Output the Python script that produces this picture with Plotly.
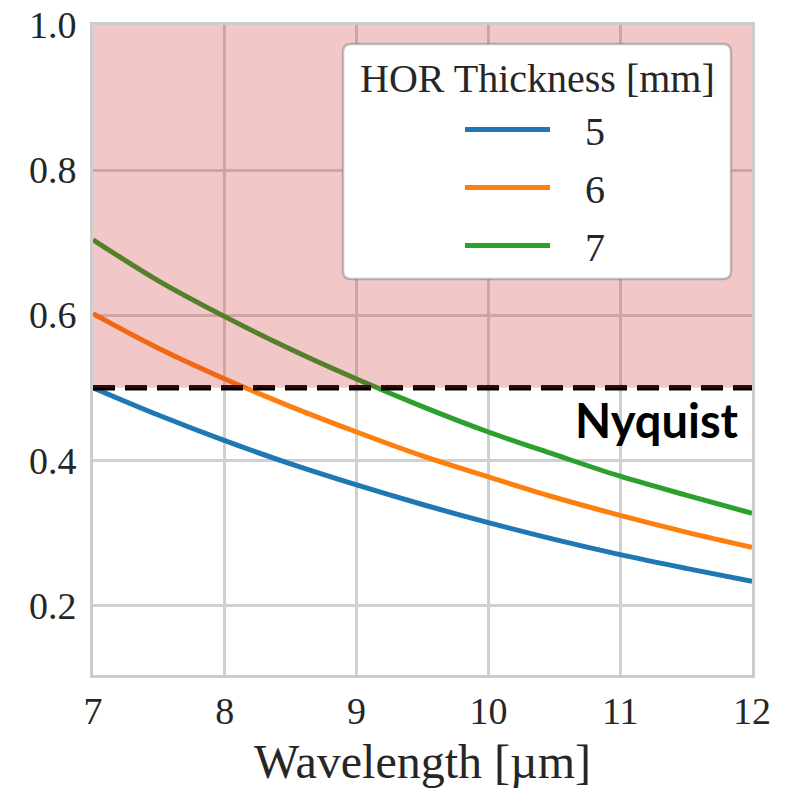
import plotly.graph_objects as go

# Wavelength samples [µm]
wavelength = [7.0, 7.5, 8.0, 8.5, 9.0, 9.5, 10.0, 10.5, 11.0, 11.5, 12.0]

# Ratio for each HOR thickness [mm]
thickness_labels = ["5", "6", "7"]
ratio_5mm = [0.500, 0.462, 0.427, 0.395, 0.366, 0.339, 0.314, 0.291, 0.270, 0.251, 0.233]
ratio_6mm = [0.602, 0.554, 0.512, 0.474, 0.439, 0.406, 0.377, 0.349, 0.324, 0.301, 0.280]
ratio_7mm = [0.704, 0.647, 0.598, 0.553, 0.512, 0.474, 0.439, 0.408, 0.378, 0.352, 0.327]

nyquist_limit = 0.5
x_ticks = [7, 8, 9, 10, 11, 12]
y_ticks = [0.2, 0.4, 0.6, 0.8, 1.0]

colors = ["#1f77b4", "#ff7f0e", "#2ca02c"]
serif = "Liberation Serif, Times New Roman, serif"
text_color = "#262626"

W, H = 794, 788
M_L, M_R, M_T, M_B = 93, 42, 25, 113
plot_w = W - M_L - M_R
plot_h = H - M_T - M_B


def px_x(p):
    return (p - M_L) / plot_w


def px_y(p):
    return (H - M_B - p) / plot_h


fig = go.Figure()

for i, (lab, vals) in enumerate(zip(thickness_labels, [ratio_5mm, ratio_6mm, ratio_7mm])):
    fig.add_trace(go.Scatter(
        x=wavelength, y=vals, mode="lines",
        name="\u00a0\u00a0\u00a0" + lab,
        legendgroup="g" + lab,
        line=dict(color=colors[i], width=5, shape="spline", smoothing=1.0),
    ))

# Nyquist limit
fig.add_trace(go.Scatter(
    x=[wavelength[0], wavelength[-1]], y=[nyquist_limit, nyquist_limit],
    mode="lines", showlegend=False,
    line=dict(color="black", width=5.5, dash="22px,10px"),
))

# Aliased region above the Nyquist limit
fig.add_shape(type="rect", xref="x", yref="y",
              x0=wavelength[0], x1=wavelength[-1], y0=nyquist_limit, y1=1.0,
              fillcolor="rgba(200,40,40,0.26)", line=dict(width=0), layer="above")

# Rounded legend frame
x0, x1 = px_x(343), px_x(731)
y0, y1 = px_y(279), px_y(44)
rx, ry = 8 / plot_w, 8 / plot_h
path = (f"M{x0+rx},{y0} L{x1-rx},{y0} Q{x1},{y0} {x1},{y0+ry} "
        f"L{x1},{y1-ry} Q{x1},{y1} {x1-rx},{y1} L{x0+rx},{y1} "
        f"Q{x0},{y1} {x0},{y1-ry} L{x0},{y0+ry} Q{x0},{y0} {x0+rx},{y0} Z")
fig.add_shape(type="path", xref="paper", yref="paper", path=path,
              fillcolor="white", line=dict(color="rgba(120,120,120,0.45)", width=2.5),
              layer="above")

fig.add_annotation(text="HOR Thickness [mm]", xref="paper", yref="paper",
                   x=px_x(537), y=px_y(78), xanchor="center", yanchor="middle",
                   showarrow=False, font=dict(family=serif, size=40, color=text_color))

fig.add_annotation(text="<b>Nyquist</b>", xref="paper", yref="y",
                   x=px_x(741), y=0.455, xanchor="right", yanchor="middle",
                   showarrow=False, font=dict(family="Lato", size=47, color="black"))

fig.update_layout(
    width=W, height=H,
    margin=dict(l=M_L, r=M_R, t=M_T, b=M_B, autoexpand=False),
    paper_bgcolor="white", plot_bgcolor="white",
    font=dict(family=serif, color=text_color),
    legend=dict(
        x=px_x(460), y=px_y(97), xanchor="left", yanchor="top",
        bgcolor="rgba(0,0,0,0)", borderwidth=0,
        font=dict(family=serif, size=40, color=text_color),
        itemwidth=85, tracegroupgap=3,
    ),
    xaxis=dict(
        range=[7, 12], tickvals=x_ticks, ticktext=[str(t) for t in x_ticks],
        showgrid=True, gridcolor="#d0d0d0", gridwidth=2.5,
        showline=True, linecolor="#cccccc", linewidth=3, mirror=True,
        zeroline=False, ticks="", ticklabelstandoff=0, automargin=False,
        tickfont=dict(family=serif, size=38, color=text_color),
        title=dict(text="Wavelength [µm]", standoff=26,
                   font=dict(family=serif, size=48, color=text_color)),
    ),
    yaxis=dict(
        range=[0.104, 1.0], tickvals=y_ticks, tickformat=".1f",
        showgrid=True, gridcolor="#d0d0d0", gridwidth=2.5,
        showline=True, linecolor="#cccccc", linewidth=3, mirror=True,
        zeroline=False, ticks="", ticklabelstandoff=6, automargin=False,
        tickfont=dict(family=serif, size=38, color=text_color),
    ),
)

fig.write_html("out.html")
